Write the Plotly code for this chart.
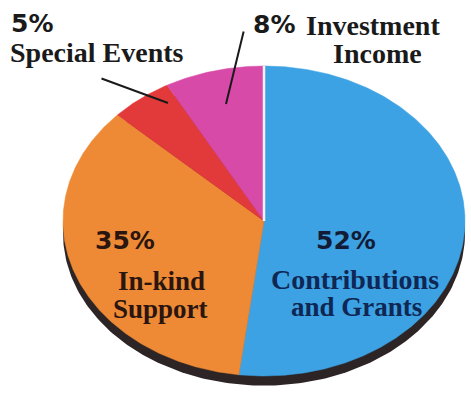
import numpy as np
import plotly.graph_objects as go

# ---- data ----
categories = ["Contributions and Grants", "In-kind Support", "Special Events", "Investment Income"]
values = [52, 35, 5, 8]
colors = ["#3da2e3", "#ee8a35", "#e23a3a", "#d84aa8"]

# ---- geometry of the tilted (elliptical) pie, in pixel units ----
W, H = 471, 397
cx, cy = 264, 221
a, b = 201, 155
rim = 12

fig = go.Figure()

# dark rim (side of the 3D disc)
t = np.linspace(0, 2 * np.pi, 361)
fig.add_trace(go.Scatter(x=cx + a * np.cos(t), y=cy + rim - b * np.sin(t) * 0.985,
                         fill="toself", fillcolor="#2d2426", mode="lines",
                         line=dict(width=0, color="#2d2426"), hoverinfo="skip", showlegend=False))

total = sum(values)
start = 90.0
boundaries = []
for cat, v, col in zip(categories, values, colors):
    sweep = 360.0 * v / total
    th = np.radians(np.linspace(start, start - sweep, max(int(sweep * 2), 4)))
    xs = np.concatenate([[cx], cx + a * np.cos(th), [cx]])
    ys = np.concatenate([[cy], cy - b * np.sin(th), [cy]])
    fig.add_trace(go.Scatter(x=xs, y=ys, fill="toself", fillcolor=col, mode="lines",
                             line=dict(width=0.5, color=col), name=cat,
                             hovertemplate=f"{cat}: {v}%<extra></extra>", showlegend=False))
    boundaries.append(start)
    start -= sweep

# white gap at the start edge of the first slice (12 o'clock)
s0 = np.radians(boundaries[0])
fig.add_trace(go.Scatter(x=[cx, cx + a * np.cos(s0)], y=[cy, cy - b * np.sin(s0)],
                         mode="lines", line=dict(width=2.5, color="#f4f0f4"),
                         hoverinfo="skip", showlegend=False))

sans = "DejaVu Sans"
serif = "Liberation Serif"

ann = []
def txt(s, x, y, size, color, fam, xanchor="center"):
    ann.append(dict(text=s, x=x, y=y, xref="x", yref="y", showarrow=False,
                    xanchor=xanchor, yanchor="middle",
                    font=dict(family=fam, size=size, color=color)))

txt("<b>5%</b>", 9, 23, 25, "#1a1a1a", sans, "left")
txt("<b>Special Events</b>", 8, 52, 28, "#1a1a1a", serif, "left")
txt("<b>8%</b>", 251, 24, 25, "#1a1a1a", sans, "left")
txt("<b>Investment</b>", 304, 25, 28, "#1a1a1a", serif, "left")
txt("<b>Income</b>", 377, 53, 28, "#1a1a1a", serif)

txt("<b>35%</b>", 125, 240, 25, "#2a1510", sans)
txt("<b>In-kind</b>", 161, 281, 27, "#2a1510", serif)
txt("<b>Support</b>", 160, 309, 27, "#2a1510", serif)

txt("<b>52%</b>", 346, 240, 25, "#121c36", sans)
txt("<b>Contributions</b>", 355, 279, 28, "#0f2754", serif)
txt("<b>and Grants</b>", 356, 307, 27, "#0f2754", serif)

# leader lines
for (x0, y0, x1, y1) in [(100, 78, 168, 103), (244, 30, 226, 104)]:
    ann.append(dict(x=x1, y=y1, ax=x0, ay=y0, xref="x", yref="y", axref="x", ayref="y",
                    text="", showarrow=True, arrowhead=0, arrowwidth=2, arrowcolor="#1a1a1a"))

fig.update_layout(
    width=W, height=H, margin=dict(l=0, r=0, t=0, b=0),
    paper_bgcolor="white", plot_bgcolor="white",
    xaxis=dict(range=[0, W], visible=False, fixedrange=True),
    yaxis=dict(range=[H, 0], visible=False, fixedrange=True),
    annotations=ann, showlegend=False,
)

fig.write_html("out.html")
